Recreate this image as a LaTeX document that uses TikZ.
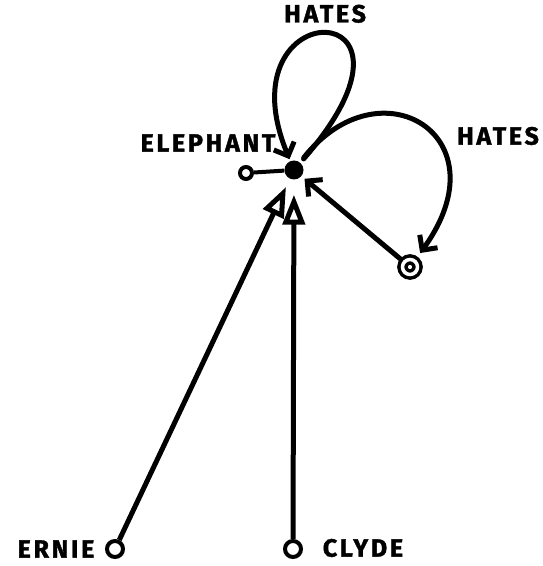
\documentclass[tikz,border=0pt]{standalone}
\usepackage{fontspec}
\setmainfont{Fira Sans}
\usepackage{tikz}
\usetikzlibrary{arrows.meta, positioning, calc}

\begin{document}
\begin{tikzpicture}[
  x=1pt, y=1pt,
  every node/.style={font=\fontsize{25}{25}\selectfont\bfseries\addfontfeatures{LetterSpace=11, FakeBold=1.5}},
  blob/.style={circle, fill=black, inner sep=0pt, minimum size=19pt},
  port/.style={circle, draw, line width=4pt, inner sep=0pt, minimum width=12pt, minimum height=11pt},
  leaf/.style={circle, draw, line width=4pt, inner sep=0pt, minimum width=12pt, minimum height=16pt},
  ring/.style={circle, draw, line width=3.5pt, double distance=3.5pt, inner sep=0pt, minimum size=15pt},
  hate/.style={-{Straight Barb[length=11pt, width=22pt]}, line width=5pt, line cap=round},
  isa/.style={-{Triangle[open, length=30pt, width=22pt]}, line width=5pt, line join=round},
]
\useasboundingbox (0,0) rectangle (543,566);

% nodes
\node[blob] (el) at (294,396) {};
\node[port] (elport) at (246,393) {};
\node[ring] (tgt) at (410,299) {};
\node[leaf] (ernie) at (115,17) {};
\node[leaf] (clyde) at (293,17) {};

% names
\node (elname) at (208,423) {ELEPHANT};
\node (erniename) at (56,17) {ERNIE};
\node (clydename) at (363,18) {CLYDE};

% self loop
\draw[hate, shorten <=5pt, shorten >=2pt] (el) .. controls (450,575) and (220,575) .. (el)
  node[midway, above=5pt] (hate1) {HATES};

% loop to the ring
\draw[hate, shorten <=6pt, shorten >=8pt] (el) .. controls (380,505) and (505,430) .. (tgt);
\node (hate2) at (498,430) {HATES};
\draw[hate, shorten <=3pt, shorten >=4pt] (tgt) -- (el);

% port
\draw[line width=4pt] (elport) -- (el);

% instances
\draw[isa, shorten >=9pt] (ernie) -- (el);
\draw[isa, shorten >=15pt] (clyde) -- (el);

\end{tikzpicture}
\end{document}
